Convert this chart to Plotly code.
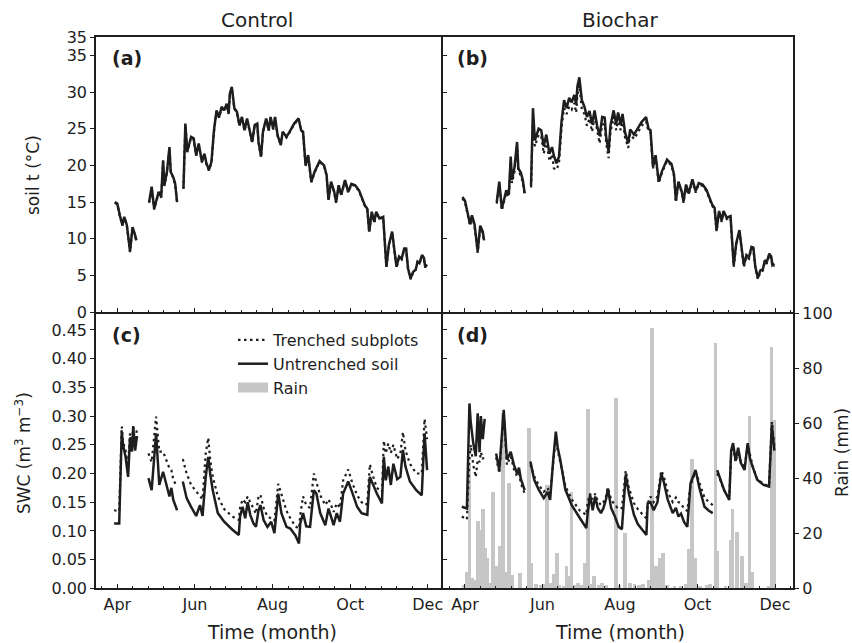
import plotly.graph_objects as go

# ---------------- data ----------------
month_days = [0, 61, 122, 183, 244]          # days after 1 April
month_labels = ["Apr", "Jun", "Aug", "Oct", "Dec"]

# soil temperature (deg C); None = gap in record
t_days = [-2, 0, 2, 4, 5.5, 7.5, 10, 12, 14, 15,
          20,
          25, 27, 29, 31, 32.5, 34.5, 36, 37, 39, 41, 42, 44, 45.5, 47,
          49.5,
          52, 53.5, 55, 58, 60, 62, 64, 66.5, 68.5, 70,
          72, 74, 76, 78, 80, 82, 84, 86, 87.5, 88.5,
          90, 92, 94, 96, 98, 100, 102, 104, 106, 108,
          110, 111, 113, 114.5, 117, 119, 120.5, 122.5, 124, 126,
          128.5, 130, 133, 135.5, 139, 142.5, 144.5, 146, 148, 150,
          152.5, 155, 159, 162.5, 164.5, 166, 168, 170.5, 172, 174,
          176, 179, 181.5, 184, 187, 190, 192.5, 194.5, 196.5, 198,
          200, 202, 203.5, 206, 209, 210, 211.5, 213.5, 216, 218,
          219.5, 221.5, 223.5, 225.5, 227, 228.5, 230.5, 232.5, 234.5, 236,
          237.5, 239.5, 241, 242, 243.5]

t_ctrl_untrenched = [15.0, 14.8, 13.2, 11.9, 13.0, 11.9, 8.3, 11.6, 10.5, 9.8,
                     None,
                     15.0, 17.1, 14.1, 15.5, 16.4, 15.7, 20.7, 17.3, 19.1, 22.5, 19.1, 18.4, 17.5, 15.0,
                     None,
                     16.9, 25.7, 21.9, 23.9, 23.7, 21.4, 23.0, 20.5, 21.6, 20.3,
                     19.4, 20.5, 24.8, 27.5, 26.6, 28.0, 27.5, 28.4, 27.1, 29.8,
                     30.7, 27.8, 27.3, 25.5, 26.6, 24.8, 26.4, 24.6, 23.2, 25.5,
                     25.7, 23.2, 21.2, 24.6, 26.4, 24.8, 26.6, 25.0, 26.6, 24.1,
                     22.8, 24.6, 23.9, 24.6, 25.7, 26.4, 24.8, 24.6, 20.0, 21.4,
                     17.8, 19.1, 20.6, 20.0, 18.7, 15.3, 17.8, 16.4, 15.0, 17.3,
                     16.0, 18.0, 16.4, 17.5, 17.3, 16.6, 15.5, 14.6, 14.1, 11.0,
                     13.7, 12.3, 13.7, 12.8, 13.0, 9.6, 6.2, 9.2, 11.0, 8.2,
                     6.2, 7.6, 7.3, 8.7, 8.7, 6.0, 4.6, 5.5, 5.8, 6.9,
                     6.7, 7.8, 7.4, 6.2, 6.5]

t_ctrl_trenched = [14.9, 14.7, 13.1, 11.8, 12.9, 11.8, 8.2, 11.5, 10.4, 9.7,
                   None,
                   14.9, 17.0, 14.0, 15.4, 16.3, 15.6, 20.5, 17.2, 19.0, 22.3, 19.0, 18.3, 17.4, 14.9,
                   None,
                   16.8, 25.5, 21.8, 23.8, 23.6, 21.3, 22.9, 20.4, 21.5, 20.2,
                   19.3, 20.4, 24.6, 27.3, 26.5, 27.8, 27.4, 28.2, 27.0, 29.6,
                   30.5, 27.7, 27.2, 25.4, 26.5, 24.7, 26.3, 24.5, 23.1, 25.4,
                   25.6, 23.1, 21.1, 24.5, 26.3, 24.7, 26.5, 24.9, 26.5, 24.0,
                   22.7, 24.5, 23.8, 24.5, 25.6, 26.3, 24.7, 24.5, 19.9, 21.3,
                   17.7, 19.0, 20.5, 19.9, 18.6, 15.2, 17.7, 16.3, 14.9, 17.2,
                   15.9, 17.9, 16.3, 17.4, 17.2, 16.5, 15.4, 14.5, 14.0, 10.9,
                   13.6, 12.2, 13.6, 12.7, 12.9, 9.5, 6.1, 9.1, 10.9, 8.1,
                   6.1, 7.5, 7.2, 8.6, 8.6, 5.9, 4.5, 5.4, 5.7, 6.8,
                   6.6, 7.7, 7.3, 6.1, 6.4]

t_bio_untrenched = [15.7, 15.2, 13.6, 12.0, 13.2, 12.0, 8.3, 11.8, 11.0, 9.8,
                    None,
                    15.0, 17.8, 14.1, 15.4, 16.6, 16.0, 21.2, 18.0, 19.8, 23.2, 19.6, 19.0, 18.0, 16.2,
                    None,
                    17.3, 27.8, 23.4, 25.0, 24.8, 22.6, 24.2, 21.6, 22.5, 21.3,
                    20.3, 21.2, 26.0, 28.9, 27.8, 29.2, 28.6, 29.6, 28.3, 30.8,
                    32.0, 28.9, 28.0, 26.6, 27.4, 25.6, 27.5, 25.4, 24.0, 26.6,
                    26.5, 24.0, 21.9, 25.4, 27.5, 25.6, 27.2, 25.6, 27.0, 24.5,
                    23.0, 24.9, 24.2, 24.9, 25.9, 26.6, 25.0, 24.8, 19.8, 21.4,
                    17.8, 19.2, 20.8, 20.2, 18.8, 15.2, 17.8, 16.5, 15.1, 17.4,
                    16.2, 18.1, 16.5, 17.6, 17.4, 16.7, 15.6, 14.7, 14.2, 11.2,
                    13.8, 12.5, 13.8, 12.9, 13.1, 9.8, 6.4, 9.4, 11.2, 8.4,
                    6.4, 7.8, 7.5, 8.9, 8.8, 6.2, 4.7, 5.7, 5.9, 7.1,
                    6.8, 8.0, 7.6, 6.4, 6.6]

t_bio_trenched = [15.5, 15.0, 13.4, 11.8, 13.0, 11.8, 8.1, 11.5, 10.8, 9.6,
                  None,
                  14.8, 17.5, 13.9, 15.2, 16.3, 15.7, 20.6, 17.6, 19.2, 22.6, 19.2, 18.6, 17.7, 16.0,
                  None,
                  17.0, 26.5, 22.6, 24.2, 24.0, 21.6, 23.4, 20.6, 21.5, 19.6,
                  19.4, 20.3, 25.2, 27.8, 27.0, 28.0, 27.6, 28.5, 27.2, 29.6,
                  30.9, 27.6, 27.0, 25.4, 26.4, 24.6, 26.6, 24.5, 23.0, 25.6,
                  25.6, 23.2, 21.0, 24.5, 26.6, 24.8, 26.4, 24.8, 26.3, 23.8,
                  22.4, 24.3, 23.6, 24.3, 25.4, 26.0, 24.6, 24.5, 19.6, 21.2,
                  17.6, 19.0, 20.6, 20.0, 18.6, 15.0, 17.6, 16.3, 14.9, 17.2,
                  16.0, 17.9, 16.3, 17.4, 17.2, 16.5, 15.4, 14.5, 14.0, 11.0,
                  13.6, 12.3, 13.6, 12.7, 12.9, 9.6, 6.2, 9.2, 11.0, 8.2,
                  6.2, 7.6, 7.3, 8.7, 8.6, 6.0, 4.5, 5.5, 5.7, 6.9,
                  6.6, 7.8, 7.4, 6.2, 6.4]

# soil water content (m3 m-3)
swc_days = [-2.5, 1.5, 3.5, 4.5, 6.5, 8.5, 10, 11.5, 12.5, 14, 15.5,
            20,
            24.5, 27, 30.5, 33, 36, 38.5, 41, 42.5, 44, 47,
            49.5,
            51.5, 54.5, 58, 62, 65, 67, 69.5, 71.5, 73, 75,
            79, 84, 90.5, 95.5, 96.5, 98.5, 100.5, 102.5, 104.5, 107,
            109, 111, 112.5, 115, 118, 121, 123.5, 126.5, 129, 133,
            136, 140, 142.8, 143.8, 146, 148.5, 151.5, 154.5, 156.5, 159.5,
            163.5, 166, 168, 170, 172.5, 175, 177.5, 181.5, 184.5, 188.5,
            192, 195, 196.5, 198.5, 201, 204, 208, 209.5, 211, 213,
            215, 217, 220, 222.5, 224.5, 226.5, 230, 235, 239.3, 241.5,
            243.5]

swc_ctrl_untrenched = [0.113, 0.113, 0.273, 0.250, 0.229, 0.194, 0.262, 0.238, 0.281, 0.240, 0.265,
                       None,
                       0.192, 0.171, 0.270, 0.180, 0.203, 0.180, 0.160, 0.175, 0.154, 0.136,
                       None,
                       0.186, 0.157, 0.142, 0.126, 0.145, 0.126, 0.194, 0.229, 0.200, 0.171,
                       0.131, 0.116, 0.102, 0.093, 0.125, 0.142, 0.122, 0.150, 0.128, 0.113,
                       0.107, 0.136, 0.145, 0.119, 0.107, 0.116, 0.096, 0.165, 0.131, 0.107,
                       0.104, 0.092, 0.078, 0.113, 0.131, 0.108, 0.107, 0.171, 0.165, 0.131,
                       0.110, 0.139, 0.125, 0.110, 0.131, 0.116, 0.165, 0.186, 0.168, 0.142,
                       0.131, 0.129, 0.128, 0.194, 0.180, 0.165, 0.148, 0.229, 0.188, 0.212,
                       0.180, 0.217, 0.190, 0.194, 0.241, 0.212, 0.186, 0.171, 0.162, 0.270,
                       0.206]

swc_ctrl_trenched = [0.136, 0.134, 0.282, 0.255, 0.240, 0.212, 0.270, 0.245, 0.285, 0.250, 0.280,
                     None,
                     0.235, 0.220, 0.299, 0.238, 0.238, 0.222, 0.209, 0.206, 0.189, 0.177,
                     None,
                     0.225, 0.200, 0.180, 0.168, 0.160, 0.155, 0.235, 0.262, 0.224, 0.195,
                     0.160, 0.138, 0.125, 0.119, 0.140, 0.155, 0.150, 0.160, 0.150, 0.140,
                     0.130, 0.160, 0.163, 0.140, 0.125, 0.122, 0.118, 0.182, 0.165, 0.135,
                     0.122, 0.108, 0.104, 0.128, 0.160, 0.145, 0.140, 0.200, 0.185, 0.162,
                     0.145, 0.155, 0.145, 0.133, 0.148, 0.140, 0.188, 0.207, 0.185, 0.162,
                     0.150, 0.145, 0.148, 0.216, 0.195, 0.175, 0.168, 0.257, 0.235, 0.252,
                     0.236, 0.250, 0.225, 0.235, 0.272, 0.240, 0.217, 0.200, 0.200, 0.295,
                     0.260]

swc_bio_untrenched = [0.142, 0.139, 0.322, 0.290, 0.253, 0.230, 0.305, 0.237, 0.300, 0.260, 0.295,
                      None,
                      0.235, 0.206, 0.311, 0.224, 0.238, 0.215, 0.200, 0.210, 0.190, 0.171,
                      None,
                      0.221, 0.189, 0.172, 0.157, 0.168, 0.154, 0.225, 0.273, 0.245, 0.224,
                      0.172, 0.145, 0.122, 0.105, 0.130, 0.163, 0.136, 0.160, 0.140, 0.131,
                      0.140, 0.155, 0.174, 0.140, 0.125, 0.107, 0.103, 0.198, 0.165, 0.128,
                      0.112, 0.100, 0.093, 0.148, 0.150, 0.136, 0.150, 0.200, 0.185, 0.155,
                      0.131, 0.140, 0.125, 0.130, 0.115, 0.107, 0.183, 0.206, 0.175, 0.142,
                      0.135, 0.131, None, 0.206, 0.190, 0.171, 0.154, 0.240, 0.253, 0.222,
                      0.245, 0.219, 0.206, 0.253, 0.224, 0.210, 0.189, 0.180, 0.177, 0.285,
                      0.240]

swc_bio_trenched = [0.125, 0.120, 0.224, 0.250, 0.215, 0.194, 0.224, 0.220, 0.237, 0.225, 0.232,
                    None,
                    0.228, 0.200, 0.305, 0.215, 0.230, 0.208, 0.195, 0.200, 0.183, 0.165,
                    None,
                    0.215, 0.195, 0.180, 0.168, 0.175, 0.165, 0.220, 0.262, 0.240, 0.220,
                    0.178, 0.155, 0.135, 0.128, 0.150, 0.165, 0.155, 0.165, 0.152, 0.145,
                    0.150, 0.160, 0.175, 0.155, 0.145, 0.138, 0.140, 0.205, 0.175, 0.148,
                    0.138, 0.128, 0.122, 0.148, 0.160, 0.150, 0.160, 0.205, 0.195, 0.168,
                    0.150, 0.158, 0.150, 0.148, 0.138, 0.135, 0.180, 0.203, 0.182, 0.158,
                    0.150, 0.145, None, 0.200, 0.188, 0.170, 0.160, 0.235, 0.248, 0.220,
                    0.240, 0.222, 0.210, 0.250, 0.228, 0.212, 0.190, 0.182, 0.178, 0.290,
                    0.248]

# daily rain (mm)
rain_days = [-1, 1.5, 3.5, 6, 8, 10.2, 12.2, 14.2, 16.3, 17.8,
             20, 22, 24.7, 27.3, 29.9, 32.3, 34.8, 37, 43.5, 50.4,
             52, 56, 59.5, 62, 64.5, 67, 69.5, 72.2, 74.5, 78,
             80, 82, 84, 86.5, 89, 92, 94.4, 97, 99.5, 101.5,
             105, 108, 111.5, 118.8, 121.5, 125.9, 130, 133.5, 137, 140,
             144.5, 147, 150.5, 153.5, 156, 159, 165, 170, 174, 176,
             178.7, 181, 185, 190.5, 193, 197, 198.9, 205, 208.8, 210.6,
             214, 218, 221, 224, 226, 239, 241.2, 243.5]
rain_mm = [1.0, 6.0, 44.8, 3.6, 3.0, 24.2, 21.2, 28.7, 14.5, 10.9,
           2.0, 35.1, 7.9, 15.1, 63.6, 6.0, 38.2, 4.8, 5.4, 58.2,
           9.1, 1.5, 1.0, 1.5, 37.6, 2.0, 5.2, 12.7, 1.0, 0.8,
           7.9, 4.2, 34.8, 1.0, 2.0, 1.0, 9.1, 65.1, 1.5, 4.2,
           1.0, 2.0, 1.0, 69.1, 1.0, 20.0, 2.0, 1.5, 1.0, 1.5,
           3.0, 94.5, 7.9, 10.9, 12.7, 1.0, 0.5, 0.5, 1.5, 14.2,
           46.9, 10.9, 0.5, 1.2, 1.5, 89.1, 13.3, 0.5, 17.6, 28.7,
           20.2, 11.5, 2.0, 62.4, 6.0, 0.5, 87.5, 61.2]

# ---------------- styling ----------------
INK = "#1e1e1e"
GREY = "#c6c6c6"
FONT = "DejaVu Sans"
W, H = 852, 643

def px_x(x):
    return x / W

def px_y(y):
    return 1 - y / H

solid = dict(color=INK, width=2.5)
dotted = dict(color=INK, width=2.2, dash="2.5px,3.5px")

fig = go.Figure()

# rain bars (drawn first, on the base axis of panel d)
fig.add_trace(go.Bar(x=rain_days, y=rain_mm, width=2.8, marker=dict(color=GREY, line=dict(width=0)),
                     xaxis="x4", yaxis="y4", showlegend=False, name="Rain"))

# temperature
fig.add_trace(go.Scatter(x=t_days, y=t_ctrl_untrenched, mode="lines", line=solid,
                         xaxis="x", yaxis="y", showlegend=False, connectgaps=False))
fig.add_trace(go.Scatter(x=t_days, y=t_ctrl_trenched, mode="lines", line=dotted,
                         xaxis="x", yaxis="y", showlegend=False, connectgaps=False))
fig.add_trace(go.Scatter(x=t_days, y=t_bio_untrenched, mode="lines", line=solid,
                         xaxis="x2", yaxis="y2", showlegend=False, connectgaps=False))
fig.add_trace(go.Scatter(x=t_days, y=t_bio_trenched, mode="lines", line=dotted,
                         xaxis="x2", yaxis="y2", showlegend=False, connectgaps=False))

# SWC
fig.add_trace(go.Scatter(x=swc_days, y=swc_ctrl_trenched, mode="lines", line=dotted,
                         xaxis="x3", yaxis="y3", name="Trenched subplots", legendrank=1,
                         connectgaps=False))
fig.add_trace(go.Scatter(x=swc_days, y=swc_ctrl_untrenched, mode="lines", line=solid,
                         xaxis="x3", yaxis="y3", name="Untrenched soil", legendrank=2,
                         connectgaps=False))
fig.add_trace(go.Scatter(x=[None], y=[None], mode="lines", line=dict(color=GREY, width=13),
                         xaxis="x3", yaxis="y3", name="Rain", legendrank=3))
fig.add_trace(go.Scatter(x=swc_days, y=swc_bio_untrenched, mode="lines", line=solid,
                         xaxis="x4", yaxis="y5", showlegend=False, connectgaps=False))
fig.add_trace(go.Scatter(x=swc_days, y=swc_bio_trenched, mode="lines", line=dotted,
                         xaxis="x4", yaxis="y5", showlegend=False, connectgaps=False))

# ---------------- axes ----------------
xl = [px_x(96), px_x(443)]
xr = [px_x(443), px_x(793.3)]
yt = [px_y(312.3), px_y(37.3)]
yb = [px_y(588.3), px_y(312.3)]

tickfont = dict(family=FONT, size=16, color=INK)
common = dict(showgrid=False, zeroline=False, showline=True, linecolor=INK, linewidth=1.5,
              tickcolor=INK, tickwidth=1.2, tickfont=tickfont, automargin=False)

def xax(domain, rng, anchor, labels, mirror):
    return dict(common, domain=domain, range=rng, anchor=anchor, mirror=mirror,
                tickmode="array", tickvals=month_days, ticktext=month_labels,
                showticklabels=labels, ticks="inside", ticklen=5, ticklabelstandoff=1,
                minor=dict(ticks="inside", ticklen=3, tickmode="linear", tick0=0, dtick=61 / 5,
                           tickcolor=INK, tickwidth=1))

t_vals = [0, 5, 10, 15, 20, 25, 30, 35, 37.45]
t_text = ["0", "5", "10", "15", "20", "25", "30", "35", "35"]
swc_vals = [0, 0.05, 0.10, 0.15, 0.20, 0.25, 0.30, 0.35, 0.40, 0.45]
swc_text = ["0.00", "0.05", "0.10", "0.15", "0.20", "0.25", "0.30", "0.35", "0.40", "0.45"]
rain_vals = [0, 20, 40, 60, 80, 100]

fig.update_layout(
    template="none",
    width=W, height=H, autosize=False, margin=dict(l=0, r=0, t=0, b=0, pad=0, autoexpand=False),
    paper_bgcolor="white", plot_bgcolor="rgba(0,0,0,0)",
    font=dict(family=FONT, color=INK),
    bargap=0,
    xaxis=xax(xl, [-16.74, 256.0], "y", False, True),
    xaxis2=xax(xr, [-17.3, 258.4], "y2", False, True),
    xaxis3=xax(xl, [-16.74, 256.0], "y3", True, False),
    xaxis4=xax(xr, [-17.3, 258.4], "y4", True, False),
    yaxis=dict(common, domain=yt, range=[0, 37.45], anchor="x", mirror=False,
               tickmode="array", tickvals=t_vals, ticktext=t_text, ticks="outside", ticklen=4),
    yaxis2=dict(common, domain=yt, range=[0, 37.45], anchor="x2", mirror=True,
                tickmode="array", tickvals=t_vals[:-1], showticklabels=False, ticks="inside", ticklen=4),
    yaxis3=dict(common, domain=yb, range=[0, 0.4808], anchor="x3", mirror=False,
                tickmode="array", tickvals=swc_vals, ticktext=swc_text, ticks="outside", ticklen=4),
    yaxis4=dict(common, domain=yb, range=[0, 100.4], anchor="x4", side="right", mirror=False,
                tickmode="array", tickvals=rain_vals, ticks="outside", ticklen=4),
    yaxis5=dict(common, range=[0, 0.4808], anchor="x4", overlaying="y4", side="left",
                tickmode="array", tickvals=swc_vals, showticklabels=False, ticks="inside", ticklen=4),
    legend=dict(x=px_x(233), y=px_y(323), xanchor="left", yanchor="top",
                bgcolor="rgba(0,0,0,0)", borderwidth=0, font=dict(family=FONT, size=16, color=INK),
                traceorder="normal", tracegroupgap=0, itemwidth=30),
)

ann = []
def text(x, y, s, size, bold=False, angle=0):
    ann.append(dict(x=px_x(x), y=px_y(y), xref="paper", yref="paper", text=(f"<b>{s}</b>" if bold else s),
                    showarrow=False, textangle=angle, xanchor="center", yanchor="middle",
                    font=dict(family=FONT, size=size, color=INK)))

text(257, 20, "Control", 20)
text(620, 20, "Biochar", 20)
text(272, 632, "Time (month)", 19)
text(620, 632, "Time (month)", 19)
text(33, 175, "soil t (°C)", 17, angle=-90)
text(23, 453, "SWC (m<sup>3</sup> m<sup>−3</sup>)", 17, angle=-90)
text(842, 453, "Rain (mm)", 17, angle=-90)
text(127, 58, "(a)", 19, bold=True)
text(473, 58, "(b)", 19, bold=True)
text(126, 335, "(c)", 19, bold=True)
text(473, 335, "(d)", 19, bold=True)
fig.update_layout(annotations=ann)

fig.write_html("out.html")
